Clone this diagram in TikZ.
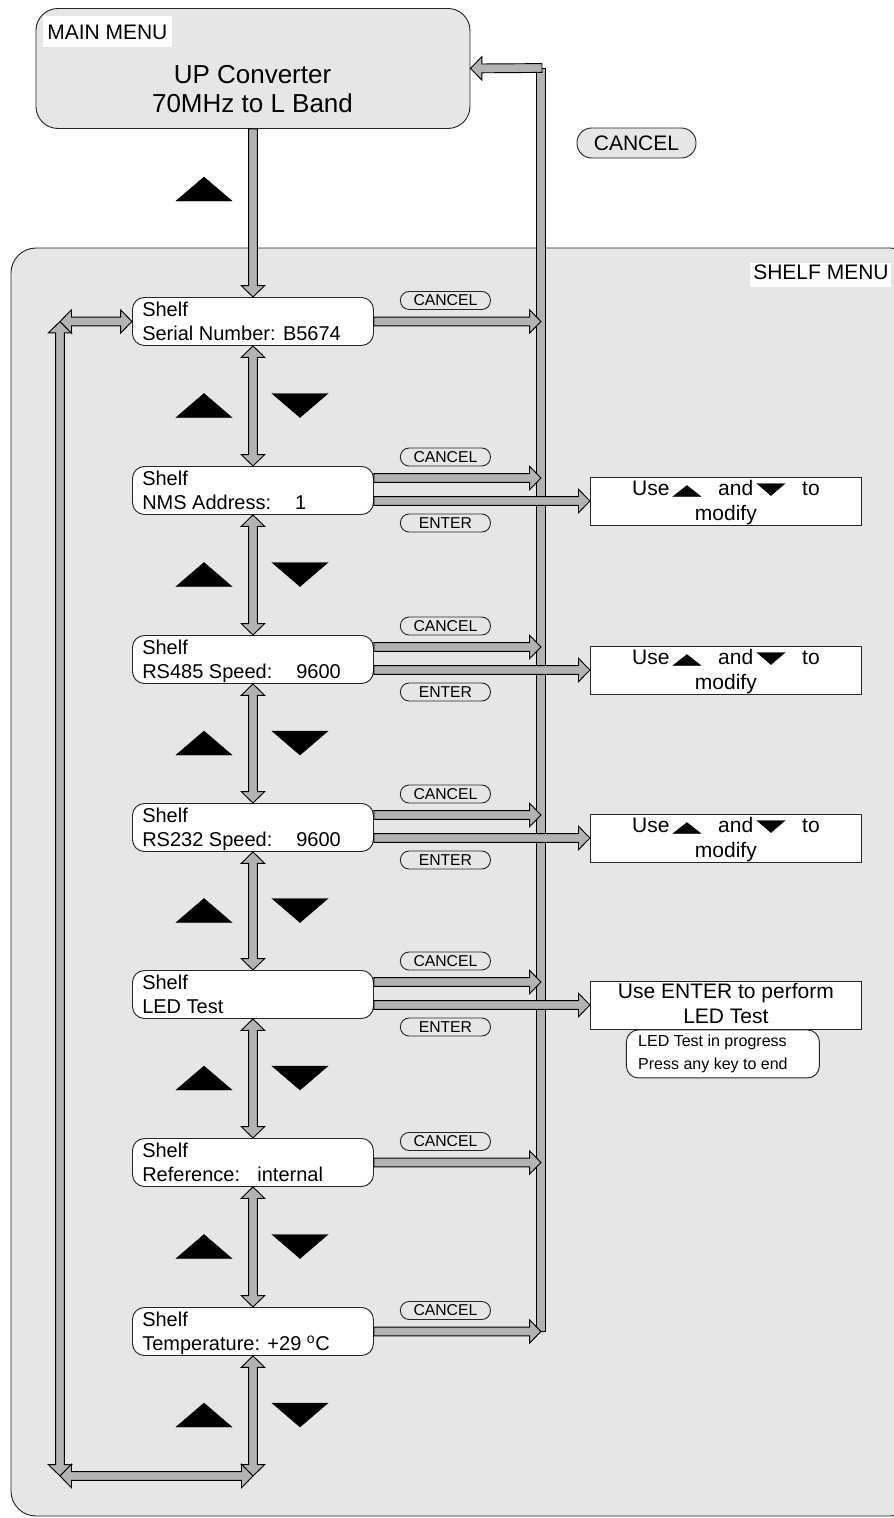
\documentclass[tikz,border=0pt]{standalone}
\usepackage{fontspec}
\setmainfont{Liberation Sans}
\usetikzlibrary{calc}
\definecolor{panel}{HTML}{E6E6E6}
\definecolor{arrowgray}{HTML}{B3B3B3}
\definecolor{edge}{HTML}{262626}
\newcommand\arrHL{8.6pt}
\newcommand\arrHW{8.8pt}
\newcommand\arrSW{3.3pt}
% single-headed block arrow from #1 to #2
\newcommand\sarrow[2]{%
  \path ($(#2)!\arrHL!(#1)$) coordinate (aB);
  \filldraw[arrowbody] ($(#1)!\arrSW!90:(#2)$) -- ($(aB)!\arrSW!90:(#2)$) -- ($(aB)!\arrHW!90:(#2)$) -- (#2) -- ($(aB)!\arrHW!-90:(#2)$) -- ($(aB)!\arrSW!-90:(#2)$) -- ($(#1)!\arrSW!-90:(#2)$) -- cycle;}
% double-headed block arrow between #1 and #2
\newcommand\darrow[2]{%
  \path ($(#1)!\arrHL!(#2)$) coordinate (dA) ($(#2)!\arrHL!(#1)$) coordinate (dB);
  \filldraw[arrowbody] (#1) -- ($(dA)!\arrHW!90:(#2)$) -- ($(dA)!\arrSW!90:(#2)$) -- ($(dB)!\arrSW!90:(#2)$) -- ($(dB)!\arrHW!90:(#2)$) -- (#2) -- ($(dB)!\arrHW!-90:(#2)$) -- ($(dB)!\arrSW!-90:(#2)$) -- ($(dA)!\arrSW!-90:(#2)$) -- ($(dA)!\arrHW!-90:(#2)$) -- cycle;}
\newcommand\uptri[2]{\filldraw[tri] (#1-28,#2+12) -- (#1+28,#2+12) -- (#1,#2-12) -- cycle;}
\newcommand\dntri[2]{\filldraw[tri] (#1-28,#2-12) -- (#1+28,#2-12) -- (#1,#2+12) -- cycle;}
\tikzset{
  arrowbody/.style={fill=arrowgray, draw=black, line width=0.7pt, line join=miter},
  shelfbox/.style={draw=edge, fill=white, line width=0.7pt, rounded corners=9pt, minimum width=180.75pt, minimum height=36pt, inner sep=0pt, anchor=north west},
  usebox/.style={draw=edge, fill=white, line width=0.7pt, minimum width=203.25pt, minimum height=36pt, inner sep=0pt, anchor=west},
  pill/.style={draw=edge, fill=panel, line width=0.7pt, rounded corners=6.5pt, minimum width=67.5pt, minimum height=13.5pt, inner sep=0pt, font=\fontsize{11.8}{13}\selectfont},
  tri/.style={fill=black, draw=black, line width=0.3pt},
  boxtext/.style={anchor=base west, inner sep=0pt, font=\fontsize{15}{18}\selectfont},
  usetext/.style={inner sep=0pt, font=\fontsize{15.75}{18}\selectfont},
  smalltext/.style={anchor=base west, inner sep=0pt, font=\fontsize{12}{14}\selectfont},
  labeltext/.style={anchor=base west, inner sep=0pt, font=\fontsize{15.75}{18}\selectfont},
}
\begin{document}
\begin{tikzpicture}[x=0.75pt,y=-0.75pt]
\useasboundingbox (0,0) rectangle (893,1518);
% shelf menu panel
\draw[draw=edge, fill=panel, line width=0.7pt, rounded corners=18.75pt] (11,248) rectangle (915,1516);
\fill[white] (750,263) rectangle (891,287);
\node[labeltext] (shelflabel) at (753,279) {SHELF MENU};
% main menu
\node[draw=edge, fill=panel, line width=0.7pt, rounded corners=16.5pt, minimum width=325.5pt, minimum height=90pt, inner sep=0pt, anchor=north west] (mm) at (35.5,8) {};
\fill[white] (43,16) rectangle (172,47);
\node[labeltext] (mmlabel) at (47,39) {MAIN MENU};
\node[anchor=base, inner sep=0pt, font=\fontsize{19.5}{22}\selectfont] (mmt1) at (252.5,83) {UP Converter};
\node[anchor=base, inner sep=0pt, font=\fontsize{19.5}{22}\selectfont] (mmt2) at (252.5,112) {70MHz to L Band};
% big cancel pill
\node[draw=edge, fill=panel, line width=0.7pt, rounded corners=11pt, minimum width=89.25pt, minimum height=22.5pt, inner sep=0pt, font=\fontsize{15.75}{18}\selectfont] (bigcancel) at (636.5,143) {CANCEL};
% shelf boxes
\foreach \i/\t/\txt in {1/297/{Serial Number: B5674},2/466/{NMS Address:\hspace{18pt}1},3/635/{RS485 Speed:\hspace{18pt}9600},4/803/{RS232 Speed:\hspace{18pt}9600},5/970/{LED Test},6/1138/{Reference:\hspace{13pt}internal},7/1307/{Temperature: +29 \textsuperscript{o}C}}{
  \node[shelfbox] (s\i) at (132,\t) {};
  \node[boxtext] (s\i a) at ($(s\i.north west)+(10,19)$) {Shelf};
  \node[boxtext] (s\i b) at ($(s\i.north west)+(10,43)$) {\txt};
}
% triangles
\uptri{204}{189}
\foreach \m in {405.5,574.5,743,910.5,1078,1246.5,1415}{
  \uptri{204}{\m}
  \dntri{300}{\m}
}
% vertical navigation arrows
\sarrow{mm.south}{s1.north}
\foreach \i/\j in {1/2,2/3,3/4,4/5,5/6,6/7}{
  \darrow{s\i.south}{s\j.north}
}
% left loop
\coordinate (lt) at ($(s1.west)+(-72,0)$);
\coordinate (lb) at (60,1476);
\coordinate (cb) at (s7.south |- lb);
\darrow{s7.south}{cb}
\darrow{lt}{lb}
\darrow{lb}{cb}
\darrow{lt}{s1.west}
% cancel return line
\coordinate (cltop) at (541,68);
\coordinate (clbot) at (541,1331);
\filldraw[arrowbody] ($(cltop)+(-4.5,0)$) rectangle ($(clbot)+(4.5,0)$);
\coordinate (clstart) at (542,68);
\sarrow{clstart}{mm.east}
% cancel arrows
\foreach \i in {1,6,7}{
  \coordinate (c\i) at (s\i.east);
}
\foreach \i in {2,3,4,5}{
  \coordinate (c\i) at ($(s\i.north east)+(0,12)$);
  \coordinate (e\i) at ($(s\i.north east)+(0,35)$);
}
\foreach \i in {1,...,7}{
  \coordinate (ce\i) at (c\i -| cltop);
  \sarrow{c\i}{ce\i}
  \node[pill] (pc\i) at ($(c\i)+(71.5,-21)$) {CANCEL};
}
% enter arrows and value boxes
\foreach \i in {2,3,4,5}{
  \node[usebox] (u\i) at ($(e\i)+(216,0)$) {};
  \sarrow{e\i}{u\i.west}
  \node[pill] (pe\i) at ($(e\i)+(71.5,22)$) {ENTER};
}
\foreach \i in {2,3,4}{
  \node[usetext, anchor=base west] (u\i use) at ($(u\i.north west)+(42,19)$) {Use};
  \filldraw[tri] ($(u\i.north west)+(83,20)$) -- ($(u\i.north west)+(111,20)$) -- ($(u\i.north west)+(97,9)$) -- cycle;
  \node[usetext, anchor=base west] (u\i and) at ($(u\i.north west)+(128,19)$) {and};
  \filldraw[tri] ($(u\i.north west)+(167,7)$) -- ($(u\i.north west)+(195,7)$) -- ($(u\i.north west)+(181,19)$) -- cycle;
  \node[usetext, anchor=base west] (u\i to) at ($(u\i.north west)+(212,19)$) {to};
  \node[usetext, anchor=base] (u\i mod) at ($(u\i.north)+(0,44)$) {modify};
}
\node[usetext, anchor=base] (u5a) at ($(u5.north)+(0,18)$) {Use ENTER to perform};
\node[usetext, anchor=base] (u5b) at ($(u5.north)+(0,43)$) {LED Test};
% LED test in progress
\node[draw=edge, fill=white, line width=0.7pt, rounded corners=9pt, minimum width=144.75pt, minimum height=36pt, inner sep=0pt, anchor=north west] (ledp) at ($(u5.south west)+(36,0)$) {};
\node[smalltext] (ledp1) at ($(ledp.north west)+(12,17)$) {LED Test in progress};
\node[smalltext] (ledp2) at ($(ledp.north west)+(12,40)$) {Press any key to end};
\end{tikzpicture}
\end{document}
